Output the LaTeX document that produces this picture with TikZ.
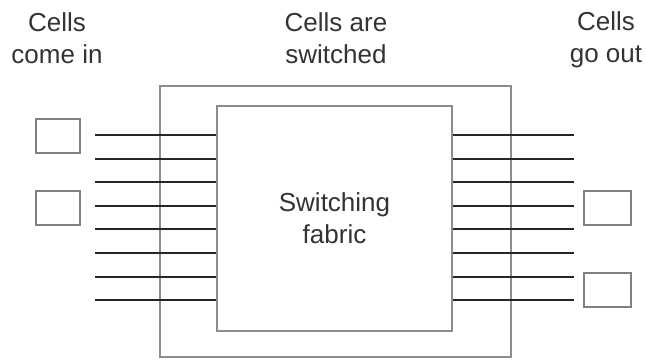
\documentclass[tikz,border=0pt]{standalone}
\usepackage{fontspec}
\setmainfont{Liberation Sans}
\usetikzlibrary{positioning}

\begin{document}
\begin{tikzpicture}[x=1pt, y=-1pt]
    % Styles
    \tikzstyle{caption} = [align=center, font=\fontsize{26}{32}\selectfont, text=black!80, inner sep=0pt]
    \tikzstyle{frame} = [rectangle, draw=black!45, line width=1.8pt, inner sep=0pt]
    \tikzstyle{cell} = [rectangle, draw=black!50, line width=1.8pt, minimum width=44pt, minimum height=34pt, inner sep=0pt]
    \tikzstyle{line} = [draw, black!85, line width=2pt]

    \useasboundingbox (0,0) rectangle (646,360);

    % --- FRAMES ---
    \node [frame, minimum width=351pt, minimum height=271pt] (switch) at (335.5,221.5) {};
    \node [frame, caption, minimum width=235pt, minimum height=225pt] (fabric) at (334.5,218.5) {Switching\\fabric};

    % --- CAPTIONS ---
    \node [caption] (incap) at (57,38) {Cells\\come in};
    \node [caption] (swcap) at (336,38) {Cells are\\switched};
    \node [caption] (outcap) at (606,40) {Cells\\go out};

    % --- CELLS ---
    \node [cell] (inA) at (58,136) {};
    \node [cell] (inB) at (58,208) {};
    \node [cell, minimum width=47pt] (outA) at (607.5,208) {};
    \node [cell, minimum width=47pt] (outB) at (607.5,290) {};

    % --- LINES ---
    \foreach \y [count=\i] in {135,158.6,182.2,205.8,229.4,253,276.6,300.2} {
        \coordinate (in\i) at (95,\y);
        \coordinate (out\i) at (574,\y);
        \path [line] (in\i) -- (in\i -| fabric.west);
        \path [line] (fabric.east |- out\i) -- (out\i);
    }

\end{tikzpicture}
\end{document}
